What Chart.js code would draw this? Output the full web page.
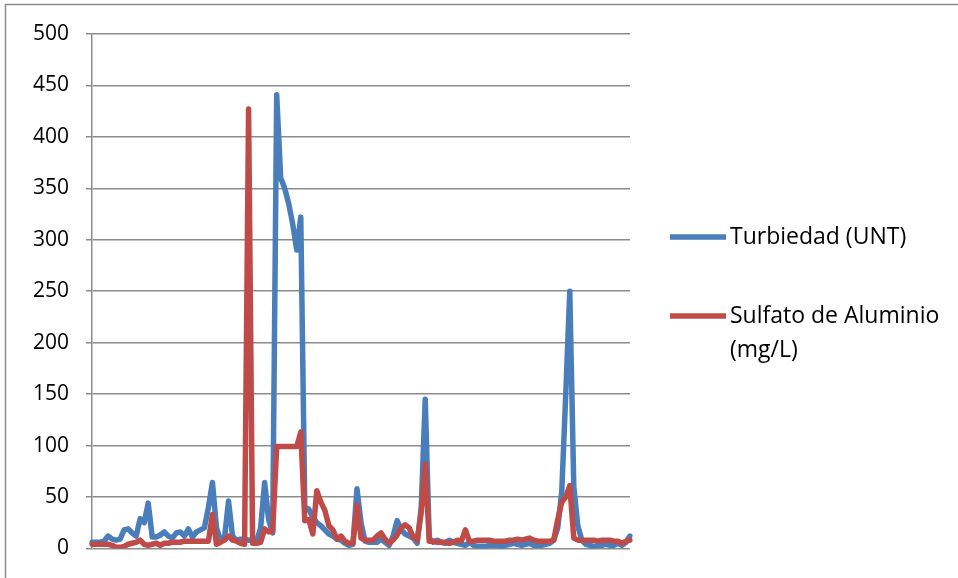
<!DOCTYPE html>
<html>
<head>
<meta charset="utf-8">
<script src="https://cdn.jsdelivr.net/npm/chart.js@4.4.1/dist/chart.umd.min.js"></script>
<style>
  html, body { margin: 0; padding: 0; background: #ffffff; }
  #wrap { width: 958px; height: 578px; }
</style>
</head>
<body>
<div id="wrap"><canvas id="chart" width="958" height="578"></canvas></div>
<script>
// Daily samples: raw-water turbidity and aluminium sulphate dose
const turbiedad = [
  6, 6, 6, 7, 12, 9, 8, 9, 18, 19,
  15, 12, 29, 25, 44, 11, 11, 13, 16, 12,
  10, 15, 16, 12, 19, 11, 16, 18, 20, 40,
  64, 20, 8, 10, 46, 12, 8, 9, 9, 8,
  8, 7, 20, 64, 28, 15, 441, 360, 350, 335,
  315, 290, 322, 40, 38, 30, 25, 22, 18, 14,
  12, 9, 8, 5, 3, 4, 58, 25, 7, 6,
  6, 6, 9, 6, 3, 12, 27, 18, 14, 12,
  10, 5, 40, 145, 10, 6, 8, 6, 5, 8,
  6, 5, 4, 3, 6, 3, 2, 2, 2, 3,
  3, 3, 2, 3, 4, 5, 4, 3, 4, 5,
  3, 3, 3, 4, 5, 8, 20, 55, 150, 250,
  60, 22, 8, 4, 3, 2, 3, 3, 4, 3,
  3, 5, 3, 6, 12
];
const sulfato = [
  4, 4, 4, 4, 4, 3, 1, 1, 2, 4,
  5, 6, 8, 4, 3, 4, 5, 3, 5, 5,
  6, 6, 6, 7, 7, 7, 7, 7, 7, 7,
  33, 4, 6, 8, 12, 8, 7, 5, 4, 427,
  5, 5, 6, 19, 16, 17, 99, 99, 99, 99,
  99, 99, 113, 27, 28, 14, 56, 45, 37, 22,
  18, 9, 12, 7, 5, 5, 42, 10, 8, 8,
  8, 12, 15, 9, 5, 8, 13, 20, 23, 20,
  11, 8, 35, 82, 7, 7, 6, 6, 6, 5,
  6, 8, 7, 18, 7, 7, 8, 8, 8, 8,
  7, 7, 7, 7, 8, 8, 9, 8, 9, 10,
  8, 7, 7, 7, 7, 8, 28, 45, 50, 61,
  10, 8, 8, 8, 8, 8, 7, 8, 8, 8,
  7, 7, 5, 7, 8
];
const dias = turbiedad.map((_, i) => String(i + 1));
const seriesNames = ['Turbiedad (UNT)', 'Sulfato de Aluminio (mg/L)'];
const seriesColors = ['#4a7ebb', '#be4b48'];
const yMin = 0, yMax = 500, yStep = 50;

const FONT = "'Open Sans', 'Liberation Sans', sans-serif";

// White page with the thin outer frame
const framePlugin = {
  id: 'frame',
  beforeDraw(chart) {
    const ctx = chart.ctx;
    ctx.save();
    ctx.fillStyle = '#ffffff';
    ctx.fillRect(0, 0, chart.width, chart.height);
    ctx.strokeStyle = '#8c8c8c';
    ctx.lineWidth = 1.5;
    ctx.strokeRect(5.5, 4.5, chart.width + 10, chart.height + 10);
    ctx.restore();
  }
};

// Legend on the right: line sample plus wrapped series name
const sideLegend = {
  id: 'sideLegend',
  afterDraw(chart, args, opts) {
    const ctx = chart.ctx;
    ctx.save();
    ctx.font = opts.fontSize + 'px ' + FONT;
    ctx.textBaseline = 'middle';
    ctx.fillStyle = '#000000';
    chart.data.datasets.forEach((ds, i) => {
      const y = opts.rows[i];
      ctx.strokeStyle = ds.borderColor;
      ctx.lineWidth = ds.borderWidth;
      ctx.lineCap = 'butt';
      ctx.beginPath();
      ctx.moveTo(opts.sampleX, y);
      ctx.lineTo(opts.sampleX + opts.sampleLen, y);
      ctx.stroke();
      // wrap words to the available width
      const words = ds.label.split(' ');
      const lines = [];
      let cur = '';
      words.forEach(w => {
        const t = cur ? cur + ' ' + w : w;
        if (ctx.measureText(t).width > opts.maxWidth && cur) { lines.push(cur); cur = w; }
        else cur = t;
      });
      if (cur) lines.push(cur);
      lines.forEach((ln, k) => {
        ctx.fillText(ln, opts.textX, y + k * opts.lineHeight);
      });
    });
    ctx.restore();
  }
};

new Chart(document.getElementById('chart'), {
  type: 'line',
  data: {
    labels: dias,
    datasets: [
      {
        label: seriesNames[0],
        data: turbiedad,
        borderColor: seriesColors[0],
        backgroundColor: seriesColors[0],
        borderWidth: 5.5,
        pointRadius: 0,
        tension: 0,
        borderJoinStyle: 'round',
        borderCapStyle: 'round',
        order: 2
      },
      {
        label: seriesNames[1],
        data: sulfato,
        borderColor: seriesColors[1],
        backgroundColor: seriesColors[1],
        borderWidth: 5.5,
        pointRadius: 0,
        tension: 0,
        borderJoinStyle: 'round',
        borderCapStyle: 'round',
        order: 1
      }
    ]
  },
  options: {
    responsive: false,
    animation: false,
    events: [],
    layout: { padding: { left: 0, top: 34, right: 328, bottom: 27 } },
    scales: {
      x: {
        type: 'category',
        offset: false,
        grid: { display: false, drawTicks: false },
        border: { display: false },
        ticks: { display: false }
      },
      y: {
        min: yMin,
        max: yMax,
        ticks: {
          stepSize: yStep,
          color: '#000000',
          padding: 17,
          font: { family: FONT, size: 21 }
        },
        grid: { color: '#8c8c8c', lineWidth: 1.5, tickLength: 6, tickColor: '#8c8c8c' },
        border: { display: true, color: '#8c8c8c', width: 1.5 },
        afterFit(scale) { scale.width = 92; }
      }
    },
    plugins: {
      legend: { display: false },
      tooltip: { enabled: false },
      sideLegend: {
        sampleX: 670, sampleLen: 56, textX: 730,
        rows: [237, 316], lineHeight: 34, fontSize: 23, maxWidth: 225
      }
    }
  },
  plugins: [framePlugin, sideLegend]
});
</script>
</body>
</html>
